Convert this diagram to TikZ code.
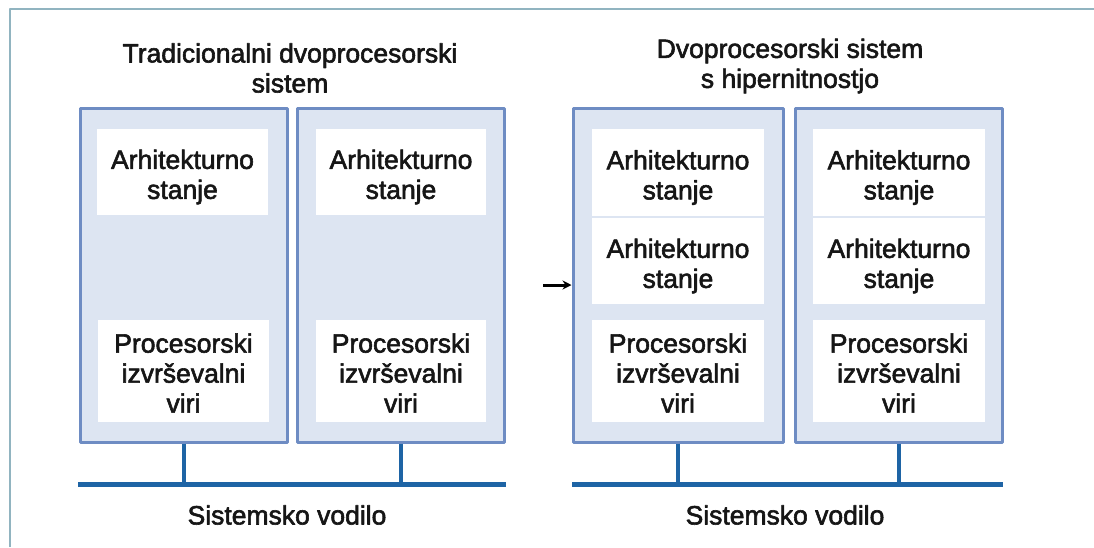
\documentclass[tikz,border=0pt]{standalone}
\usepackage{fontspec}
\setmainfont{Liberation Sans}[FakeBold=2.2]
\usetikzlibrary{arrows.meta}
\definecolor{okvir}{RGB}{145,180,192}
\definecolor{cpurob}{RGB}{110,140,195}
\definecolor{cpupolnilo}{RGB}{221,229,242}
\definecolor{vodilomodro}{RGB}{30,100,165}
\definecolor{besedilo}{RGB}{22,22,22}
\begin{document}
\begin{tikzpicture}[x=1pt,y=-1pt,line join=round,text=besedilo,
		font=\fontsize{26.5}{30}\selectfont,
		cpu/.style={draw=cpurob,line width=3pt,fill=cpupolnilo,minimum width=207pt,minimum height=334pt,inner sep=0pt},
		napis/.style={align=center,yshift=-5pt},
		stanje/.style={fill=white,draw=cpupolnilo,line width=1.5pt,minimum width=172pt,minimum height=88pt,inner sep=0pt,
			label={[napis]center:{Arhitekturno\\stanje}}},
		viri/.style={fill=white,draw=cpupolnilo,line width=1.5pt,minimum width=172pt,minimum height=104pt,inner sep=0pt,
			label={[napis,yshift=3pt]center:{Procesorski\\izvrševalni\\viri}}},
		vodilo/.style={fill=vodilomodro,minimum height=5pt,inner sep=0pt},
		prikljucek/.style={draw=vodilomodro,line width=4.5pt}]
	\useasboundingbox (0,0) rectangle (1094,547);
	\draw[okvir,line width=2pt] (10,547) -- (10,9) -- (1094,9);
	% naslova
	\node[align=center] (naslovL) at (290,68) {Tradicionalni dvoprocesorski\\sistem};
	\node[align=center] (naslovD) at (790,66) {Dvoprocesorski sistem\\s hipernitnostjo};
	% procesorji
	\node[cpu] (cpuA) at (184,275) {};
	\node[cpu] (cpuB) at (401,275) {};
	\node[cpu,minimum width=210pt] (cpuC) at (678,275) {};
	\node[cpu] (cpuD) at (899,275) {};
	\node[stanje] (stA) at (182.5,172) {};
	\node[viri] (viA) at (183.5,371) {};
	\node[stanje] (stB) at (401,172) {};
	\node[viri] (viB) at (401,371) {};
	\node[stanje,minimum width=174pt] (stC1) at (678,172.5) {};
	\node[stanje,minimum width=174pt] (stC2) at (678,261) {};
	\node[viri,minimum width=174pt] (viC) at (678,371) {};
	\node[stanje,minimum width=174pt] (stD1) at (899,172.5) {};
	\node[stanje,minimum width=174pt] (stD2) at (899,261) {};
	\node[viri,minimum width=174pt] (viD) at (899,371) {};
	% vodila
	\node[vodilo,minimum width=428pt] (vodiloL) at (292,484) {};
	\node[vodilo,minimum width=431pt] (vodiloD) at (787.5,484) {};
	\foreach \c in {cpuA,cpuB,cpuC,cpuD}
		\draw[prikljucek] (\c.south) -- (\c.south |- vodiloL.center);
	\node (napisL) at (287,515) {Sistemsko vodilo};
	\node (napisD) at (785,515) {Sistemsko vodilo};
	\coordinate (puscica) at (543,285);
	\draw[-{Stealth[length=9pt,width=9pt]},line width=3pt] (puscica) -- (puscica -| cpuC.west);
\end{tikzpicture}
\end{document}
